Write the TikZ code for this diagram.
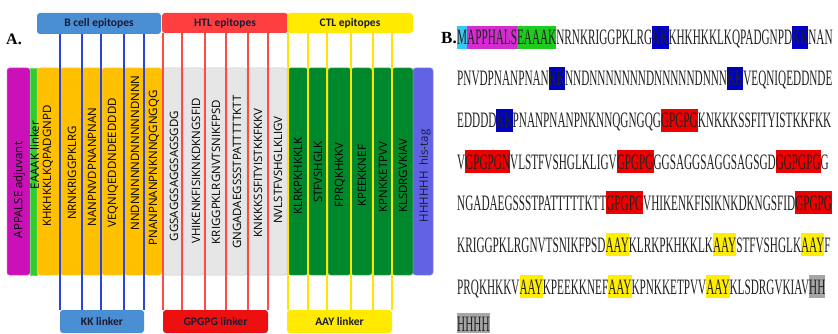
\documentclass[tikz,border=0pt]{standalone}
\usepackage{fontspec}
\setmainfont{Liberation Serif}
\newfontfamily\seqfont[FakeStretch=0.51]{Liberation Serif}
\newfontfamily\hdrfont{Carlito}
\newfontfamily\colfont{Open Sans}
\definecolor{textdark}{HTML}{1A1A33}
\definecolor{seqtext}{HTML}{222222}
\definecolor{bblue}{HTML}{4A8FD4}
\definecolor{blueline}{HTML}{2C44D8}
\definecolor{hred}{HTML}{FF3F3F}
\definecolor{gred}{HTML}{EE1010}
\definecolor{redline}{HTML}{FF4A4A}
\definecolor{cyel}{HTML}{FFEA00}
\definecolor{yline}{HTML}{FFE600}
\definecolor{borange}{HTML}{FFC000}
\definecolor{borangeb}{HTML}{F2CF6A}
\definecolor{hgray}{HTML}{E6E6E6}
\definecolor{hgrayb}{HTML}{B7D7A8}
\definecolor{cgreen}{HTML}{00892C}
\definecolor{cgreenb}{HTML}{5CB870}
\definecolor{adjmag}{HTML}{CC10B8}
\definecolor{eaaak}{HTML}{2ECC2E}
\definecolor{histag}{HTML}{6262E4}
\definecolor{hcyan}{HTML}{38C8F0}
\definecolor{hmag}{HTML}{D42CD0}
\definecolor{hgreen}{HTML}{1ECC1E}
\definecolor{hblue}{HTML}{0000C8}
\definecolor{hredb}{HTML}{EE0000}
\definecolor{hyel}{HTML}{FFEE00}
\definecolor{hgry}{HTML}{A6A6A6}
\newcommand\hlbox[2]{{\setlength{\fboxsep}{0pt}\colorbox{#1}{\rule[-4pt]{0pt}{23pt}#2}}}
\newcommand\hlboxlast[2]{{\setlength{\fboxsep}{0pt}\colorbox{#1}{\rule[-1.5pt]{0pt}{20.5pt}#2}}}
\begin{document}
\begin{tikzpicture}[x=1pt,y=-1pt,
  hdr/.style={rounded corners=3pt, inner sep=0pt, font=\hdrfont\bfseries\fontsize{11.5}{12}\selectfont, text=textdark},
  colbox/.style={rounded corners=2.5pt, inner sep=0pt, line width=0.5pt, minimum height=207pt},
  coltext/.style={rotate=90, inner sep=0pt, font=\colfont\fontsize{11.5}{12}\selectfont, text=black},
  link/.style={line width=1.4pt},
  seq/.style={anchor=base west, inner sep=0pt, font=\seqfont\fontsize{22}{24}\selectfont, text=seqtext},
  lbl/.style={inner sep=0pt, font=\bfseries\fontsize{16}{18}\selectfont, text=black}
]
\useasboundingbox (0,0) rectangle (838,334);
\clip (0,0) rectangle (838,334);
\fill[white] (0,0) rectangle (838,334);

% ---------- Part A ----------
\node[lbl] (la) at (14,39) {A.};

% columns
\node[colbox, fill=adjmag, draw=adjmag!70!white, minimum width=23pt] (adj) at (18.5,171.5) {};
\node[colbox, rounded corners=0pt, fill=eaaak, draw=eaaak!70!white, minimum width=7pt] (eak) at (33.5,171.5) {};

\node[colbox, fill=borange, draw=borangeb, minimum width=23pt] (b1) at (48.5,171.5) {};
\node[colbox, fill=borange, draw=borangeb, minimum width=22pt] (b2) at (71,171.5) {};
\node[colbox, fill=borange, draw=borangeb, minimum width=20pt] (b3) at (92,171.5) {};
\node[colbox, fill=borange, draw=borangeb, minimum width=22pt] (b4) at (113,171.5) {};
\node[colbox, fill=borange, draw=borangeb, minimum width=20pt] (b5) at (134,171.5) {};
\node[colbox, fill=borange, draw=borangeb, minimum width=18pt] (b6) at (153,171.5) {};

\node[colbox, fill=hgray, draw=hgrayb, minimum width=20pt] (h1) at (173,171.5) {};
\node[colbox, fill=hgray, draw=hgrayb, minimum width=21pt] (h2) at (193.5,171.5) {};
\node[colbox, fill=hgray, draw=hgrayb, minimum width=23pt] (h3) at (215.5,171.5) {};
\node[colbox, fill=hgray, draw=hgrayb, minimum width=20pt] (h4) at (237,171.5) {};
\node[colbox, fill=hgray, draw=hgrayb, minimum width=21pt] (h5) at (257.5,171.5) {};
\node[colbox, fill=hgray, draw=hgrayb, minimum width=19pt] (h6) at (277.5,171.5) {};

\node[colbox, fill=cgreen, draw=cgreenb, minimum width=20pt] (c1) at (298,171.5) {};
\node[colbox, fill=cgreen, draw=cgreenb, minimum width=20pt] (c2) at (318,171.5) {};
\node[colbox, fill=cgreen, draw=cgreenb, minimum width=23pt] (c3) at (339.5,171.5) {};
\node[colbox, fill=cgreen, draw=cgreenb, minimum width=21pt] (c4) at (361.5,171.5) {};
\node[colbox, fill=cgreen, draw=cgreenb, minimum width=20pt] (c5) at (382,171.5) {};
\node[colbox, fill=cgreen, draw=cgreenb, minimum width=21pt] (c6) at (402.5,171.5) {};
\node[colbox, fill=histag, draw=histag!70!white, minimum width=20pt] (his) at (423,171.5) {};

% column texts
\node[coltext] (tadj) at (19.5,190) {APPALSE adjuvant};
\node[coltext] (teak) at (34.5,155) {EAAAK linker};
\node[coltext] (tb1) at (48,166) {KHKHKKLKQPADGNPD};
\node[coltext] (tb2) at (72,173) {NRNKRIGGPKLRG};
\node[coltext] (tb3) at (92,167) {NANPNVDPNANPNAN};
\node[coltext] (tb4) at (113,163) {VEQNIQEDDNDEEDDDD};
\node[coltext] (tb5) at (135,153) {NNDNNNNNDNNNNNDNNN};
\node[coltext] (tb6) at (154,168) {PNANPNANPNKNNQGNGQG};
\node[coltext] (th1) at (174,176) {GGSAGGSAGGSAGSGDG};
\node[coltext] (th2) at (196,171) {VHIKENKFISIKNKDKNGSFID};
\node[coltext] (th3) at (216,172) {KRIGGPKLRGNVTSNIKFPSD};
\node[coltext] (th4) at (237,172) {GNGADAEGSSSTPATTTTTKTT};
\node[coltext] (th5) at (258,173) {KNKKKSSFITYISTKKFKKV};
\node[coltext] (th6) at (278,170) {NVLSTFVSHGLKLIGV};
\node[coltext] (tc1) at (298,176) {KLRKPKHKKLK};
\node[coltext] (tc2) at (318,172) {STFVSHGLK};
\node[coltext] (tc3) at (340,175) {FPRQKHKKV};
\node[coltext] (tc4) at (362,176) {KPEEKKNEF};
\node[coltext] (tc5) at (383,177) {KPNKKETPVV};
\node[coltext] (tc6) at (403,176) {KLSDRGVKIAV};
\node[coltext, text=textdark] (this) at (425,176) {HHHHHH~~his-tag};

% headers and footers
\node[hdr, fill=bblue, minimum width=124pt, minimum height=21pt] (hb) at (99,23.5) {B cell epitopes};
\node[hdr, fill=hred, minimum width=126pt, minimum height=20pt] (hh) at (225,23) {HTL epitopes};
\node[hdr, fill=cyel, minimum width=126pt, minimum height=20pt] (hc) at (350,23) {CTL epitopes};
\node[hdr, fill=bblue, minimum width=84pt, minimum height=23pt] (kk) at (102,321.5) {KK linker};
\node[hdr, fill=gred, minimum width=105pt, minimum height=23pt] (gp) at (215.5,321.5) {GPGPG linker};
\node[hdr, fill=cyel, minimum width=105pt, minimum height=23pt] (ay) at (339.5,321.5) {AAY linker};

% linker lines
\foreach \xx in {60,82,101,124,144}
  \draw[link, blueline] (hb.south -| \xx,0) -- (kk.north -| \xx,0);
\foreach \xx in {163,182,205,226,248,268}
  \draw[link, redline] (hh.south -| \xx,0) -- (gp.north -| \xx,0);
\foreach \xx in {288,308,327,351,373,392}
  \draw[link, yline] (hc.south -| \xx,0) -- (ay.north -| \xx,0);

% ---------- Part B ----------
\node[lbl, font=\bfseries\fontsize{17}{19}\selectfont] (lb) at (449,38) {B.};
\node[seq] (s1) at (457,45) {\hlbox{hcyan}{M}\hlbox{hmag}{APPHALS}\hlbox{hgreen}{EAAAK}NRNKRIGGPKLRG\hlbox{hblue}{KK}KHKHKKLKQPADGNPD\hlbox{hblue}{KK}NAN};
\node[seq] (s2) at (457,86) {PNVDPNANPNAN\hlbox{hblue}{KK}NNDNNNNNNNDNNNNNDNNN\hlbox{hblue}{KK}VEQNIQEDDNDE};
\node[seq] (s3) at (457,128) {EDDDD\hlbox{hblue}{KK}PNANPNANPNKNNQGNGQG\hlbox{hredb}{GPGPG}KNKKKSSFITYISTKKFKK};
\node[seq] (s4) at (457,169) {V\hlbox{hredb}{GPGPGN}VLSTFVSHGLKLIGV\hlbox{hredb}{GPGPG}GGSAGGSAGGSAGSGD\hlbox{hredb}{GGPGPG}G};
\node[seq] (s5) at (457,210) {NGADAEGSSSTPATTTTTKTT\hlbox{hredb}{GPGPG}VHIKENKFISIKNKDKNGSFID\hlbox{hredb}{GPGPG}};
\node[seq] (s6) at (457,252) {KRIGGPKLRGNVTSNIKFPSD\hlbox{hyel}{AAY}KLRKPKHKKLK\hlbox{hyel}{AAY}STFVSHGLK\hlbox{hyel}{AAY}F};
\node[seq] (s7) at (457,294) {PRQKHKKV\hlbox{hyel}{AAY}KPEEKKNEF\hlbox{hyel}{AAY}KPNKKETPVV\hlbox{hyel}{AAY}KLSDRGVKIAV\hlbox{hgry}{HH}};
\node[seq] (s8) at (457,331.5) {\hlboxlast{hgry}{HHHH}};
\end{tikzpicture}
\end{document}
